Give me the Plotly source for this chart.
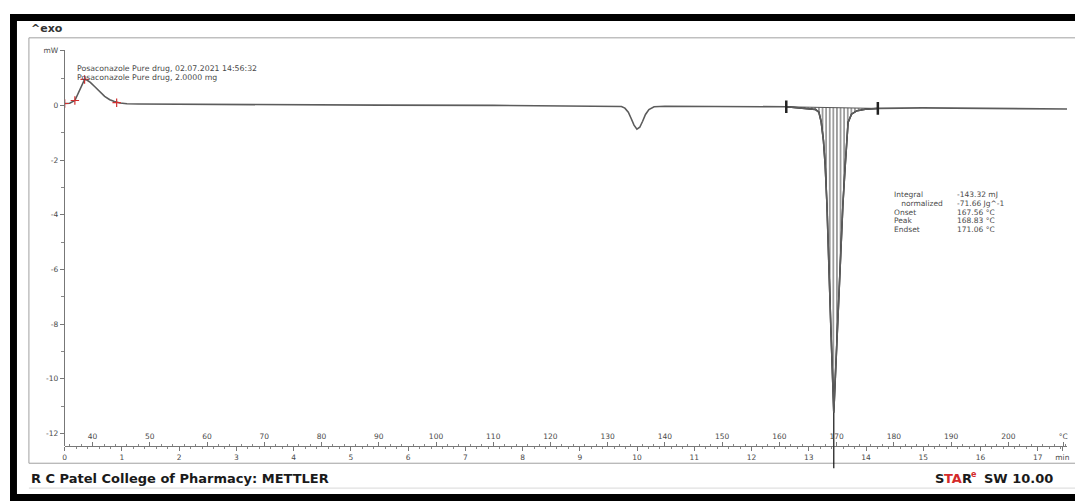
import plotly.graph_objects as go

# The page body has an 8 px margin, so the figure is drawn from (8, 8) of the window.
OFF = 8
W, H = 1083 - OFF, 501 - OFF

# ---------------- data ----------------
temp_c = [35.13, 36.0, 36.9, 37.7, 38.3, 38.6, 39.0, 39.6, 40.3, 41.2, 42.1, 43.0, 43.8,
          44.8, 46.0, 48.0, 55.0, 70.0, 90.0, 110.0, 125.0, 131.5, 132.4, 133.0, 133.6,
          134.1, 134.6, 135.1, 135.6, 136.1, 136.6, 137.2, 138.1, 140.0, 150.0, 158.0,
          161.2, 163.0, 165.0, 166.3, 166.9, 167.3, 167.7, 168.0, 168.3, 168.5, 169.0,
          169.5, 169.9, 170.4, 170.8, 171.1, 171.5, 172.0, 172.6, 173.5, 175.0, 177.2,
          185.0, 195.0, 205.0, 210.26]
heat_flow_mw = [0.07, 0.08, 0.18, 0.55, 0.85, 0.95, 0.93, 0.84, 0.70, 0.50, 0.33, 0.21, 0.14,
                0.09, 0.06, 0.05, 0.04, 0.03, 0.01, 0.0, -0.01, -0.02, -0.04, -0.10, -0.25,
                -0.48, -0.72, -0.87, -0.80, -0.58, -0.33, -0.15, -0.05, -0.03, -0.03, -0.04,
                -0.05, -0.08, -0.11, -0.15, -0.25, -0.60, -1.30, -2.20, -3.60, -5.20, -8.20,
                -11.24, -9.30, -6.90, -5.20, -3.60, -2.20, -0.62, -0.32, -0.20, -0.14, -0.11,
                -0.09, -0.10, -0.12, -0.13]

eval_marker_t = [35.13, 36.9, 38.6, 44.2]
eval_marker_v = [0.07, 0.18, 0.95, 0.10]

integ_limits_t = [161.2, 177.2]
integ_limits_v = [-0.05, -0.11]

peak_t = 169.5
peak_v = -11.24

y_tick_vals = [-12, -10, -8, -6, -4, -2, 0, 2]
y_tick_text = ["-12", "-10", "-8", "-6", "-4", "-2", "0", "mW"]
temp_tick_vals = [40, 50, 60, 70, 80, 90, 100, 110, 120, 130, 140, 150, 160, 170, 180, 190, 200, 209.6]
temp_tick_text = ["40", "50", "60", "70", "80", "90", "100", "110", "120", "130", "140", "150",
                  "160", "170", "180", "190", "200", "°C"]
time_tick_vals = [0, 1, 2, 3, 4, 5, 6, 7, 8, 9, 10, 11, 12, 13, 14, 15, 16, 17, 17.43]
time_tick_text = ["0", "1", "2", "3", "4", "5", "6", "7", "8", "9", "10", "11", "12", "13",
                  "14", "15", "16", "17", "min"]

header_lines = ["Posaconazole Pure drug, 02.07.2021 14:56:32",
                "Posaconazole Pure drug, 2.0000 mg"]
result_labels = ["Integral", "\u00a0\u00a0\u00a0normalized", "Onset", "Peak", "Endset"]
result_values = ["-143.32 mJ", "-71.66 Jg^-1", "167.56 °C", "168.83 °C", "171.06 °C"]

T_RANGE = [35.13, 210.26]
T_START = 35.13          # temperature at time 0 (10 K/min)
TIME_RANGE = [0, (T_RANGE[1] - T_START) / 10.0]
Y_RANGE = [-12.473, 2.036]

# ---------------- helpers (window pixel -> paper) ----------------
def px_x(x):
    return (x - OFF) / W

def px_y(y):
    return 1 - (y - OFF) / H

FONT = "DejaVu Sans, Verdana, sans-serif"
TXT = "#4a4a4a"
RED = "#d42a2a"

fig = go.Figure()

# integration baseline (for the hatch fill)
fig.add_trace(go.Scatter(x=integ_limits_t, y=integ_limits_v, mode="lines",
                         line=dict(color="#555", width=1), showlegend=False, hoverinfo="skip"))
# hatched segment between integration limits
seg_t = [t for t in temp_c if integ_limits_t[0] <= t <= integ_limits_t[1]]
seg_v = [v for t, v in zip(temp_c, heat_flow_mw) if integ_limits_t[0] <= t <= integ_limits_t[1]]
fig.add_trace(go.Scatter(x=seg_t, y=seg_v, mode="lines", fill="tonexty",
                         fillcolor="rgba(0,0,0,0)",
                         fillpattern=dict(shape="|", fgcolor="#111", size=3.6, solidity=0.42),
                         line=dict(color="#1a1a1a", width=1.5), showlegend=False, hoverinfo="skip"))
# main curve
fig.add_trace(go.Scatter(x=temp_c, y=heat_flow_mw, mode="lines",
                         line=dict(color="#5c5c5c", width=1.6), showlegend=False))
# red evaluation markers
fig.add_trace(go.Scatter(x=eval_marker_t, y=eval_marker_v, mode="markers",
                         marker=dict(symbol="cross-thin", size=6, line=dict(color="#d03030", width=1.2)),
                         showlegend=False, hoverinfo="skip"))
# integration limit brackets
fig.add_trace(go.Scatter(x=integ_limits_t, y=integ_limits_v, mode="markers",
                         marker=dict(symbol="line-ns", size=9, line=dict(color="#222", width=2.5)),
                         showlegend=False, hoverinfo="skip"))
# peak vertical line
fig.add_trace(go.Scatter(x=[peak_t, peak_t], y=[peak_v, Y_RANGE[0]], mode="lines",
                         line=dict(color="#111", width=1.2), showlegend=False, hoverinfo="skip"))
# dummy trace for the time axis
fig.add_trace(go.Scatter(x=TIME_RANGE, y=[0, 0], xaxis="x2", mode="markers",
                         marker=dict(opacity=0), showlegend=False, hoverinfo="skip"))

tickfont = dict(family=FONT, size=7.5, color=TXT)

fig.update_layout(
    width=W, height=H,
    margin=dict(l=0, r=0, t=0, b=0),
    paper_bgcolor="white", plot_bgcolor="white",
    xaxis=dict(domain=[px_x(63), px_x(1070)], range=T_RANGE, anchor="free",
               position=px_y(446), side="top", showgrid=False, zeroline=False,
               showline=True, linecolor="#777", linewidth=1,
               tickmode="array", tickvals=temp_tick_vals, ticktext=temp_tick_text,
               ticks="outside", ticklen=4, tickcolor="#777", tickfont=tickfont,
               minor=dict(dtick=2, tick0=0, ticks="outside", ticklen=2, tickcolor="#888")),
    xaxis2=dict(domain=[px_x(63), px_x(1070)], range=TIME_RANGE, anchor="free",
                position=px_y(446), overlaying="x", side="bottom", showgrid=False,
                zeroline=False, showline=False,
                tickmode="array", tickvals=time_tick_vals, ticktext=time_tick_text,
                ticks="outside", ticklen=4, tickcolor="#777", tickfont=tickfont,
                minor=dict(dtick=0.2, tick0=0, ticks="outside", ticklen=2, tickcolor="#888")),
    yaxis=dict(domain=[px_y(446), px_y(47)], range=Y_RANGE, anchor="x",
               showgrid=False, zeroline=False, showline=True, linecolor="#777", linewidth=1,
               tickmode="array", tickvals=y_tick_vals, ticktext=y_tick_text,
               ticks="outside", ticklen=4, tickcolor="#777", tickfont=tickfont,
               minor=dict(dtick=1, tick0=0, ticks="outside", ticklen=3, tickcolor="#888")),
)

shapes = [
    dict(type="rect", xref="paper", yref="paper", x0=0, x1=1, y0=px_y(18), y1=px_y(11),
         fillcolor="black", line=dict(width=0)),
    dict(type="rect", xref="paper", yref="paper", x0=0, x1=px_x(15), y0=0, y1=px_y(11),
         fillcolor="black", line=dict(width=0)),
    dict(type="rect", xref="paper", yref="paper", x0=0, x1=1, y0=0, y1=px_y(494),
         fillcolor="black", line=dict(width=0)),
    dict(type="rect", xref="paper", yref="paper", x0=px_x(27), x1=px_x(1081),
         y0=px_y(463), y1=px_y(35), line=dict(color="#a0a0a0", width=1)),
    dict(type="line", xref="paper", yref="paper", x0=px_x(27), x1=px_x(1081),
         y0=px_y(488), y1=px_y(488), line=dict(color="#d8d8d8", width=1)),
    dict(type="line", xref="x", yref="paper", x0=peak_t, x1=peak_t,
         y0=px_y(446), y1=px_y(468), line=dict(color="#111", width=1.2)),
]
fig.update_layout(shapes=shapes)

ann = []
ann.append(dict(text="<b>^exo</b>", x=px_x(27), y=px_y(26), xref="paper", yref="paper",
                xanchor="left", yanchor="middle", showarrow=False,
                font=dict(family=FONT, size=11, color="#333")))
for i, line in enumerate(header_lines):
    ann.append(dict(text=line, x=px_x(73), y=px_y(66 + 9 * i), xref="paper", yref="paper",
                    xanchor="left", yanchor="middle", showarrow=False,
                    font=dict(family=FONT, size=7.8, color=TXT)))
for i, (lab, val) in enumerate(zip(result_labels, result_values)):
    yy = px_y(193 + 8.7 * i)
    ann.append(dict(text=lab, x=px_x(894), y=yy, xref="paper", yref="paper",
                    xanchor="left", yanchor="middle", showarrow=False,
                    font=dict(family=FONT, size=7.5, color=TXT)))
    ann.append(dict(text=val, x=px_x(957), y=yy, xref="paper", yref="paper",
                    xanchor="left", yanchor="middle", showarrow=False,
                    font=dict(family=FONT, size=7.5, color=TXT)))
ann.append(dict(text="<b>R C Patel College of Pharmacy: METTLER</b>", x=px_x(27), y=px_y(478),
                xref="paper", yref="paper", xanchor="left", yanchor="middle", showarrow=False,
                font=dict(family=FONT, size=13, color="#1a1a1a")))
# STARe logo text
ann.append(dict(text="<b>S</b>", x=px_x(935), y=px_y(478), xref="paper", yref="paper",
                xanchor="left", yanchor="middle", showarrow=False,
                font=dict(family=FONT, size=13, color="#1a1a1a")))
ann.append(dict(text="<b>TA</b>", x=px_x(944), y=px_y(478), xref="paper", yref="paper",
                xanchor="left", yanchor="middle", showarrow=False,
                font=dict(family=FONT, size=13, color=RED)))
ann.append(dict(text="<b>R</b>", x=px_x(962), y=px_y(478), xref="paper", yref="paper",
                xanchor="left", yanchor="middle", showarrow=False,
                font=dict(family=FONT, size=13, color="#1a1a1a")))
ann.append(dict(text="<b>e</b>", x=px_x(971), y=px_y(474), xref="paper", yref="paper",
                xanchor="left", yanchor="middle", showarrow=False,
                font=dict(family=FONT, size=8, color=RED)))
ann.append(dict(text="<b>SW 10.00</b>", x=px_x(1058), y=px_y(478), xref="paper", yref="paper",
                xanchor="right", yanchor="middle", showarrow=False,
                font=dict(family=FONT, size=13, color="#1a1a1a")))
fig.update_layout(annotations=ann)

fig.write_html("out.html")
